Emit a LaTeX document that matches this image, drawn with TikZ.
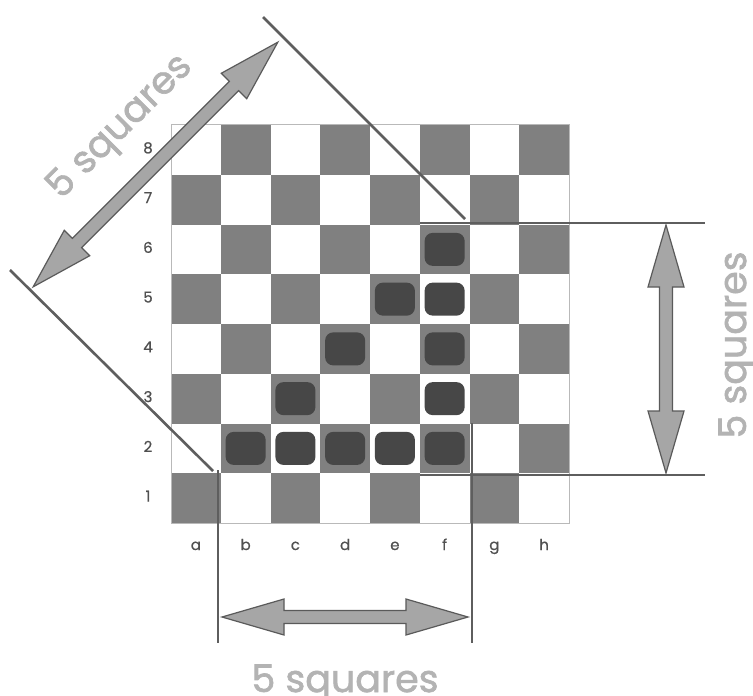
\documentclass[tikz,border=0pt]{standalone}
\usepackage{fontspec}
\setmainfont{Poppins}
\newfontfamily\dimfont{Poppins}[FakeBold=1.6]
\newfontfamily\labfont{Poppins}[FakeBold=0.6]
\definecolor{darksq}{HTML}{808080}
\definecolor{piececol}{HTML}{474747}
\definecolor{linec}{HTML}{5E5E5E}
\definecolor{arrfill}{HTML}{A6A6A6}
\definecolor{arredge}{HTML}{5A5A5A}
\definecolor{dimtext}{HTML}{B3B3B3}
\definecolor{labc}{HTML}{505050}
\newcommand{\fatarrow}[4]{%
  \draw[fatarr, shift={(#1,#2)}, rotate=#4]
    (-#3,0) -- (-#3+62,18) -- (-#3+62,6.5) -- (#3-62,6.5) -- (#3-62,18) -- (#3,0)
    -- (#3-62,-18) -- (#3-62,-6.5) -- (-#3+62,-6.5) -- (-#3+62,-18) -- cycle;}
\begin{document}
\begin{tikzpicture}[x=0.5pt,y=-0.5pt,
  darkbox/.style={fill=darksq},
  piecebox/.style={fill=piececol, rounded corners=4pt, minimum width=20pt, minimum height=16.5pt, inner sep=0pt},
  dimline/.style={draw=linec, line width=1.3pt},
  fatarr/.style={fill=arrfill, draw=arredge, line width=0.6pt, line join=miter},
  dimtxt/.style={text=dimtext, font=\dimfont\fontsize{19}{22}\selectfont, inner sep=0pt},
  boardlab/.style={text=labc, font=\labfont\fontsize{7.5}{8}\selectfont, inner sep=0pt}]
\useasboundingbox (0,0) rectangle (753,695);
\fill[white] (0,0) rectangle (753,695);
\def\BL{171}\def\BT{125}\def\SQ{49.75}
% board squares
\foreach \f in {0,...,7}{
  \foreach \i in {0,...,7}{
    \pgfmathtruncatemacro{\sqpar}{mod(\f+\i,2)}
    \ifnum\sqpar=1
      \fill[darkbox] ({\BL+\f*\SQ},{\BT+\i*\SQ}) rectangle ++(\SQ,\SQ);
    \fi
  }
}
\draw[gray!55, line width=0.5pt] (\BL,\BT) rectangle ({\BL+8*\SQ},{\BT+8*\SQ});
% pieces
\foreach \f/\rk in {1/2,2/2,3/2,4/2,5/2,2/3,3/4,4/5,5/3,5/4,5/5,5/6}{
  \node[piecebox] (p\f\rk) at ({\BL+(\f+0.5)*\SQ},{\BT+(8-\rk+0.5)*\SQ}) {};
}
% rank labels
\foreach \rk in {1,...,8}{
  \node[boardlab] (r\rk) at (148,{\BT+(8-\rk+0.5)*\SQ-2}) {\rk};
}
% file labels
\foreach \f/\lab in {0/a,1/b,2/c,3/d,4/e,5/f,6/g,7/h}{
  \node[boardlab, anchor=base] (f\lab) at ({\BL+(\f+0.5)*\SQ},550) {\lab};
}
% dimension lines
\coordinate (d1a) at (263,17);  \coordinate (d1b) at (465,219);
\coordinate (d2a) at (10,270);  \coordinate (d2b) at (213,471);
\coordinate (h1a) at (420,223); \coordinate (h1b) at (705,223);
\coordinate (h2a) at (420,475); \coordinate (h2b) at (705,475);
\coordinate (v1a) at (218,470); \coordinate (v1b) at (218,643);
\coordinate (v2a) at (472,423); \coordinate (v2b) at (472,643);
\draw[dimline] (d1a) -- (d1b);
\draw[dimline] (d2a) -- (d2b);
\draw[dimline] (h1a) -- (h1b);
\draw[dimline] (h2a) -- (h2b);
\draw[dimline] (v1a) -- (v1b);
\draw[dimline] (v2a) -- (v2b);
% fat double arrows
\fatarrow{155.5}{164.5}{173}{45}
\fatarrow{666}{349}{124}{90}
\fatarrow{345}{617}{123}{0}
% texts
\node[dimtxt, anchor=base] (tbot) at (345,692) {5 squares};
\node[dimtxt, anchor=base, rotate=90] (tright) at (746,345) {5 squares};
\node[dimtxt, rotate=45] (tleft) at (121,128) {5 squares};
\end{tikzpicture}
\end{document}
